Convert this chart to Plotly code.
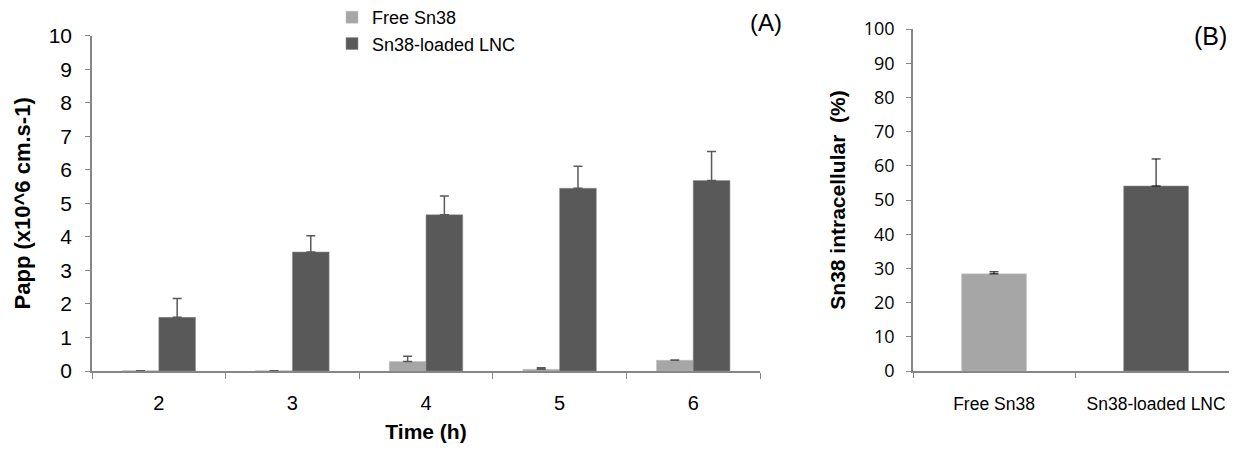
import plotly.graph_objects as go

# Panel A data
times = ["2", "3", "4", "5", "6"]
free_papp = [0.01, 0.01, 0.28, 0.05, 0.32]
free_papp_err = [0.0, 0.0, 0.16, 0.05, 0.01]
lnc_papp = [1.60, 3.55, 4.66, 5.45, 5.68]
lnc_papp_err = [0.56, 0.48, 0.56, 0.66, 0.87]

# Panel B data
groups_b = ["Free Sn38", "Sn38-loaded LNC"]
intracellular = [28.4, 54.1]
intracellular_err = [0.6, 7.9]

LIGHT = "#a6a6a6"
DARK = "#595959"
AXIS = "#868686"
OFF = 8  # page body margin
W, H = 1237 - 2 * OFF, 452 - 2 * OFF

def px_x(p):
    return (p - OFF) / W

def px_y(p):
    return (H - (p - OFF)) / H

fig = go.Figure()

fig.add_trace(go.Bar(
    x=times, y=free_papp, name="Free Sn38",
    marker=dict(color=LIGHT, line=dict(color="#bfbfbf", width=0.5)),
    error_y=dict(type="data", array=free_papp_err, arrayminus=[0]*5, symmetric=False,
                 color=DARK, thickness=1.5, width=4.5),
    xaxis="x", yaxis="y",
))
fig.add_trace(go.Bar(
    x=times, y=lnc_papp, name="Sn38-loaded LNC",
    marker=dict(color=DARK, line=dict(color="#8c8c8c", width=0.5)),
    error_y=dict(type="data", array=lnc_papp_err, arrayminus=[0]*5, symmetric=False,
                 color=DARK, thickness=1.5, width=4.5),
    xaxis="x", yaxis="y",
))
fig.add_trace(go.Bar(
    x=groups_b, y=intracellular, showlegend=False, width=0.4,
    marker=dict(color=[LIGHT, DARK], line=dict(color=["#bfbfbf", "#8c8c8c"], width=0.5)),
    error_y=dict(type="data", array=intracellular_err, arrayminus=[0, 0], symmetric=False,
                 color="#000000", thickness=1, width=4.5),
    xaxis="x2", yaxis="y2",
))

font_a = "Liberation Sans, Arial, sans-serif"
font_b = "Open Sans, Noto Sans, sans-serif"

fig.update_layout(
    width=W, height=H,
    margin=dict(l=0, r=0, t=0, b=0, autoexpand=False),
    paper_bgcolor="white", plot_bgcolor="white",
    barmode="group", bargap=0.45, bargroupgap=0,
    showlegend=True,
    legend=dict(x=px_x(332), y=px_y(-1), xanchor="left", yanchor="top",
                font=dict(family=font_a, size=18, color="#000"),
                bgcolor="rgba(0,0,0,0)", tracegroupgap=0, itemwidth=30),
    xaxis=dict(domain=[px_x(92), px_x(760)], type="category", tickson="boundaries",
               ticks="outside", ticklen=6, tickcolor=AXIS, showline=True, linecolor=AXIS,
               linewidth=1.5, showgrid=False, anchor="y", automargin=False,
               ticklabelstandoff=13,
               tickfont=dict(family=font_a, size=20, color="#000"),
               title=dict(text="<b>Time (h)</b>", standoff=12,
                          font=dict(family=font_a, size=21, color="#000"))),
    yaxis=dict(domain=[px_y(371), px_y(35.7)], range=[0, 10], dtick=1, ticks="outside",
               ticklen=5, tickcolor=AXIS, showline=True, linecolor=AXIS, linewidth=1.5,
               showgrid=False, zeroline=False, anchor="x", automargin=False,
               ticklabelstandoff=9,
               tickfont=dict(family=font_a, size=21, color="#000"),
               title=dict(text="<b>Papp (x10^6 cm.s-1)</b>", standoff=12,
                          font=dict(family=font_a, size=22, color="#000"))),
    xaxis2=dict(domain=[px_x(913), 1.0], type="category", tickson="boundaries",
                range=[-0.5, 1.45],
                ticks="outside", ticklen=5, tickcolor=AXIS, showline=True, linecolor=AXIS,
                linewidth=1.5, showgrid=False, anchor="y2", automargin=False,
                ticklabelstandoff=16,
                tickfont=dict(family=font_a, size=17.5, color="#000")),
    yaxis2=dict(domain=[px_y(371), px_y(29)], range=[0, 100], dtick=10, ticks="outside",
                ticklen=5, tickcolor=AXIS, showline=True, linecolor=AXIS, linewidth=1.5,
                showgrid=False, zeroline=False, anchor="x2", automargin=False,
                ticklabelstandoff=8,
                tickfont=dict(family=font_b, size=18, color="#000"),
                title=dict(text="<b>Sn38 intracellular&nbsp; (%)</b>", standoff=12,
                           font=dict(family=font_a, size=21, color="#000"))),
    annotations=[
        dict(text="(A)", x=px_x(766), y=px_y(22), xref="paper", yref="paper",
             xanchor="center", yanchor="middle",
             showarrow=False, font=dict(family=font_a, size=24, color="#000")),
        dict(text="(B)", x=px_x(1210), y=px_y(36), xref="paper", yref="paper",
             xanchor="center", yanchor="middle",
             showarrow=False, font=dict(family=font_a, size=25, color="#000")),
    ],
)

fig.write_html("out.html")
